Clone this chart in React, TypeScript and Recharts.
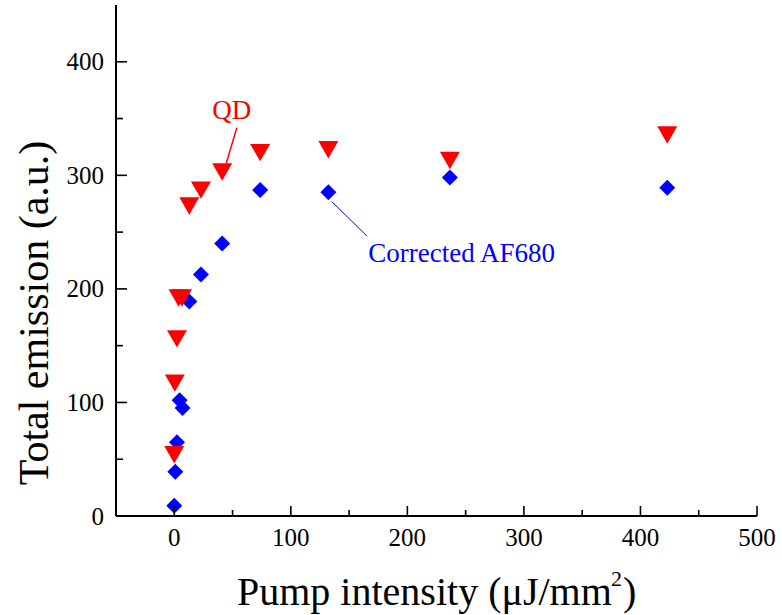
import React from 'react';
import { ScatterChart, Scatter, XAxis, YAxis, ReferenceLine, ReferenceDot, Customized } from 'recharts';

const qdX = [0, 0.5, 2.3, 3.7, 6.6, 12.9, 22.9, 41.1, 73.7, 132.2, 236.5, 423];
const qdY = [54, 117, 156, 192, 192, 273, 287, 303, 320, 322.5, 313, 335.5];
const afX = [0, 0.9, 2.3, 4.6, 7.1, 12.9, 22.9, 41.1, 73.7, 132.2, 236.5, 423];
const afY = [9, 39, 65, 102, 95, 189, 212.6, 240, 287, 285, 298, 289];

const xTicks = [-50, 0, 50, 100, 150, 200, 250, 300, 350, 400, 450, 500];
const yTicks = [0, 50, 100, 150, 200, 250, 300, 350, 400];
const xLabelStep = 100;
const yLabelStep = 100;

const qdData = qdX.map((x, i) => ({ x, y: qdY[i] }));
const afData = afX.map((x, i) => ({ x, y: afY[i] }));

const FONT = '"Liberation Serif", "Times New Roman", serif';
const TINY = 0.001;

const BottomTick = (p: any) => {
  const v = p.payload.value;
  const major = v % xLabelStep === 0;
  return (
    <g>
      <line x1={p.x} y1={p.y} x2={p.x} y2={p.y - (major ? 10 : 6)} stroke="#000" strokeWidth={1.6} />
      {major && (
        <text x={p.x} y={p.y + 30} textAnchor="middle" fontSize={25} fontFamily={FONT} fill="#000">
          {v}
        </text>
      )}
    </g>
  );
};

const LeftTick = (p: any) => {
  const v = p.payload.value;
  const major = v % yLabelStep === 0;
  return (
    <g>
      <line x1={p.x} y1={p.y} x2={p.x + (major ? 11 : 7)} y2={p.y} stroke="#000" strokeWidth={1.6} />
      {major && (
        <text x={p.x - 12} y={p.y + 8.5} textAnchor="end" fontSize={25} fontFamily={FONT} fill="#000">
          {v}
        </text>
      )}
    </g>
  );
};

const TopTick = (p: any) => (
  <line x1={p.x} y1={p.y} x2={p.x} y2={p.y + 3} stroke="#000" strokeWidth={1.2} />
);
const RightTick = (p: any) => (
  <line x1={p.x} y1={p.y} x2={p.x - 3} y2={p.y} stroke="#000" strokeWidth={1.2} />
);

const Triangle = (p: any) => {
  const { cx, cy } = p;
  const w = 10, h = 8.7;
  return <polygon points={`${cx - w},${cy - h} ${cx + w},${cy - h} ${cx},${cy + h}`} fill="#FF0000" />;
};
const Diamond = (p: any) => {
  const { cx, cy } = p;
  const r = 8;
  return <polygon points={`${cx},${cy - r} ${cx + r},${cy} ${cx},${cy + r} ${cx - r},${cy}`} fill="#0000FF" />;
};

const Titles = () => (
  <g>
    <text x={237} y={605} textAnchor="start" fontSize={40} fontFamily={FONT} fill="#000">
      Pump intensity (μJ/mm
    </text>
    <text x={611} y={586} textAnchor="start" fontSize={22} fontFamily={FONT} fill="#000">
      2
    </text>
    <text x={623} y={605} textAnchor="start" fontSize={40} fontFamily={FONT} fill="#000">
      )
    </text>
    <text x={0} y={0} transform="translate(48,313) rotate(-90)" textAnchor="middle" fontSize={42} fontFamily={FONT} fill="#000">
      Total emission (a.u.)
    </text>
  </g>
);

export default function App() {
  return (
    <div style={{ position: 'absolute', left: 0, top: 0, background: '#fff' }}>
      <ScatterChart width={782} height={615} margin={{ top: 5, right: 25, bottom: 39, left: 0 }}>
        <XAxis
          xAxisId="b"
          type="number"
          dataKey="x"
          domain={[-50, 500]}
          ticks={xTicks}
          interval={0}
          tickSize={TINY}
          tickMargin={0}
          tick={<BottomTick />}
          axisLine={{ stroke: '#000', strokeWidth: 2 }}
          height={60}
          allowDataOverflow
        />
        <XAxis
          xAxisId="t"
          orientation="top"
          type="number"
          dataKey="x"
          domain={[-50, 500]}
          ticks={xTicks}
          interval={0}
          tickSize={TINY}
          tickMargin={0}
          tick={<TopTick />}
          axisLine={{ stroke: '#000', strokeWidth: 1.5 }}
          height={0}
          allowDataOverflow
        />
        <YAxis
          yAxisId="l"
          type="number"
          dataKey="y"
          domain={[0, 450]}
          ticks={yTicks}
          interval={0}
          tickSize={TINY}
          tickMargin={0}
          tick={<LeftTick />}
          axisLine={{ stroke: '#000', strokeWidth: 2 }}
          width={116}
          allowDataOverflow
        />
        <YAxis
          yAxisId="r"
          orientation="right"
          type="number"
          dataKey="y"
          domain={[0, 450]}
          ticks={yTicks}
          interval={0}
          tickSize={TINY}
          tickMargin={0}
          tick={<RightTick />}
          axisLine={{ stroke: '#000', strokeWidth: 1.5 }}
          width={0}
          allowDataOverflow
        />
        <ReferenceLine
          xAxisId="b"
          yAxisId="l"
          segment={[{ x: 53.7, y: 342 }, { x: 44.6, y: 310.7 }]}
          stroke="#FF0000"
          strokeWidth={1.5}
        />
        <ReferenceLine
          xAxisId="b"
          yAxisId="l"
          segment={[{ x: 135.1, y: 276.9 }, { x: 165.1, y: 246.7 }]}
          stroke="#0000FF"
          strokeWidth={1}
        />
        <Scatter xAxisId="b" yAxisId="l" name="AF680" data={afData} shape={<Diamond />} isAnimationActive={false} />
        <Scatter xAxisId="b" yAxisId="l" name="QD" data={qdData} shape={<Triangle />} isAnimationActive={false} />
        <ReferenceDot
          xAxisId="b"
          yAxisId="l"
          x={49.4}
          y={349.5}
          r={0}
          shape={(p: any) => (
            <text x={p.cx} y={p.cy} textAnchor="middle" fontSize={27} fontFamily={FONT} fill="#FF0000">
              QD
            </text>
          )}
        />
        <ReferenceDot
          xAxisId="b"
          yAxisId="l"
          x={166.5}
          y={224}
          r={0}
          shape={(p: any) => (
            <text x={p.cx} y={p.cy} textAnchor="start" fontSize={27} fontFamily={FONT} fill="#0000FF">
              Corrected AF680
            </text>
          )}
        />
        <Customized component={Titles} />
      </ScatterChart>
    </div>
  );
}
